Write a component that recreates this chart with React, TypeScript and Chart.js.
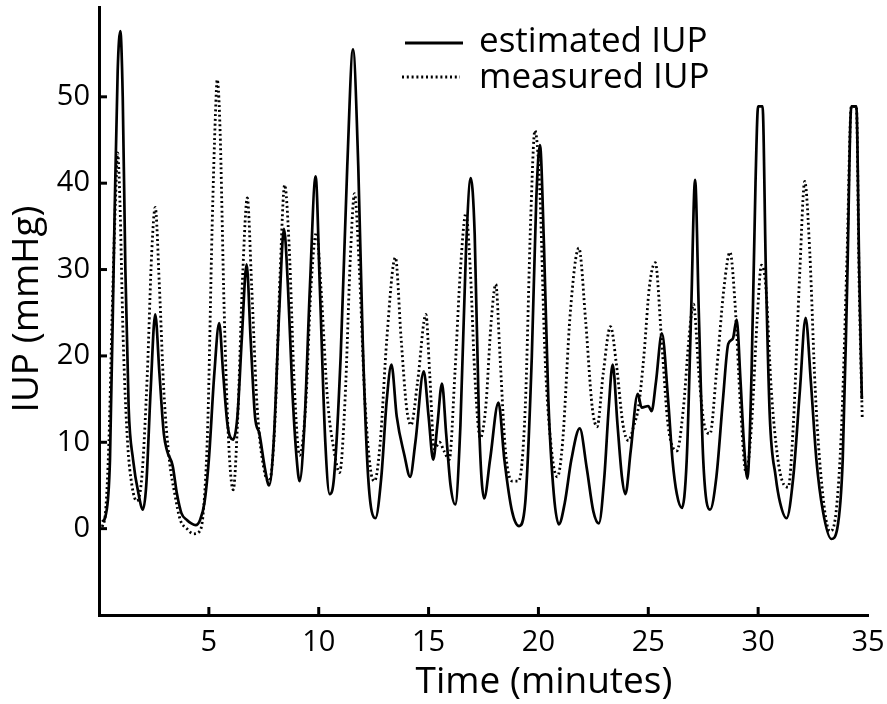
import React, { useEffect, useRef } from "react";
import { Chart, registerables } from "chart.js";
Chart.register(...registerables);

// ---- data ----
const estTime = [
  0.15, 0.3, 0.5, 0.7, 0.85, 0.97, 1.08, 1.2, 1.35, 1.55, 1.8, 2.0, 2.15, 2.35, 2.56, 2.75, 2.95, 3.1, 3.35, 3.55,
  3.75, 4.0, 4.2, 4.4, 4.6, 4.8, 5.0, 5.25, 5.47, 5.65, 5.85, 6.1, 6.3, 6.5, 6.72, 6.9, 7.1, 7.3, 7.55, 7.74,
  7.95, 8.2, 8.42, 8.6, 8.8, 9.0, 9.13, 9.35, 9.6, 9.86, 10.05, 10.3, 10.5, 10.7, 11.0, 11.3, 11.56, 11.8, 12.0, 12.25,
  12.58, 12.85, 13.1, 13.31, 13.55, 13.9, 14.16, 14.4, 14.78, 15.0, 15.21, 15.4, 15.61, 15.8, 16.0, 16.21, 16.45, 16.7, 16.92, 17.1,
  17.3, 17.53, 17.8, 18.18, 18.45, 18.8, 19.12, 19.4, 19.7, 19.9, 20.07, 20.25, 20.45, 20.7, 20.93, 21.2, 21.5, 21.88, 22.2, 22.5,
  22.75, 23.0, 23.2, 23.38, 23.6, 23.8, 23.96, 24.2, 24.52, 24.7, 25.0, 25.15, 25.35, 25.62, 25.9, 26.1, 26.3, 26.53, 26.75, 26.95,
  27.13, 27.3, 27.5, 27.81, 28.1, 28.4, 28.64, 28.85, 29.02, 29.2, 29.35, 29.51, 29.7, 29.88, 30.0, 30.2, 30.35, 30.53, 30.8, 31.0,
  31.29, 31.6, 31.9, 32.16, 32.4, 32.65, 32.95, 33.33, 33.6, 33.85, 34.05, 34.24, 34.47, 34.6, 34.72,
];
const estIUP = [
  0.8, 1.5, 8, 35, 53, 57.6, 50, 30, 14, 8, 4, 2.2, 5, 16, 24.8, 18, 11, 9, 7.3, 4,
  1.8, 1.0, 0.6, 0.4, 1, 3, 8, 18, 23.8, 18, 12, 10.3, 13, 22, 30.6, 22, 13, 11, 7, 5,
  10, 25, 34.7, 28, 16, 8, 5.5, 12, 28, 40.8, 28, 10, 4, 6, 20, 42, 55.5, 42, 22, 6,
  1.2, 6, 15, 19, 13, 8.5, 6, 10, 18.2, 13, 8, 12, 16.8, 11, 5, 2.8, 12, 32, 40.6, 34,
  12, 3.5, 8, 14.6, 8, 2, 0.3, 3, 20, 38, 44.4, 33, 15, 4, 0.5, 3, 8, 11.6, 7, 2,
  0.6, 6, 14, 19, 12, 6, 4, 9, 15.6, 14, 14.2, 13.6, 17, 22.6, 15, 8, 4, 2.4, 8, 25,
  40.4, 25, 8, 2.2, 6, 15, 21.4, 22, 24.2, 17, 10, 5.8, 18, 40, 48.9, 48.9, 30, 13, 6, 3,
  1.2, 6, 16, 24.4, 17, 8, 2, -1.2, 0, 8, 28, 48.9, 48.9, 30, 15,
];
const measTime = [
  0.15, 0.3, 0.45, 0.6, 0.75, 0.85, 0.95, 1.1, 1.3, 1.5, 1.72, 1.95, 2.2, 2.4, 2.56, 2.75, 2.95, 3.2, 3.45, 3.7,
  4.0, 4.3, 4.55, 4.75, 4.95, 5.15, 5.3, 5.38, 5.5, 5.7, 5.9, 6.11, 6.3, 6.55, 6.75, 6.95, 7.2, 7.5, 7.75, 8.0,
  8.25, 8.45, 8.65, 8.9, 9.13, 9.4, 9.65, 9.9, 10.1, 10.4, 10.7, 10.95, 11.2, 11.45, 11.63, 11.85, 12.1, 12.35, 12.54, 12.8,
  13.1, 13.49, 13.75, 14.0, 14.2, 14.5, 14.88, 15.05, 15.26, 15.5, 15.7, 15.94, 16.2, 16.45, 16.7, 16.9, 17.1, 17.35, 17.6, 17.85,
  18.06, 18.25, 18.5, 18.82, 19.1, 19.4, 19.65, 19.84, 20.05, 20.3, 20.6, 20.86, 21.1, 21.45, 21.84, 22.15, 22.45, 22.67, 22.95, 23.28,
  23.55, 23.85, 24.1, 24.35, 24.55, 24.8, 25.05, 25.32, 25.6, 25.9, 26.3, 26.6, 26.85, 27.06, 27.3, 27.55, 27.81, 28.1, 28.45, 28.72,
  28.95, 29.2, 29.45, 29.7, 29.95, 30.15, 30.35, 30.6, 30.9, 31.1, 31.37, 31.6, 31.9, 32.12, 32.35, 32.6, 32.9, 33.26, 33.55, 33.8,
  34.05, 34.24, 34.47, 34.6, 34.74,
];
const measIUP = [
  0.2, 2, 10, 25, 38, 43.5, 38, 22, 10, 5, 3.2, 6, 18, 32, 37.2, 28, 16, 8, 4, 1,
  0, -0.6, -0.4, 2, 12, 35, 48, 52, 47, 25, 10, 4.5, 12, 30, 38.3, 28, 14, 7, 5.5, 12,
  30, 39.8, 33, 16, 8.5, 14, 28, 34.3, 28, 15, 9, 6.5, 15, 32, 38.8, 30, 15, 7, 5.5, 10,
  22, 31.4, 22, 14, 12, 17, 24.8, 18, 9.2, 10, 9, 8, 18, 30, 36.5, 30, 18, 10.5, 14, 24,
  28.3, 20, 9, 5.5, 5.5, 14, 36, 46.1, 40, 20, 9, 6, 10, 25, 32.5, 24, 14, 11.8, 18, 23.4,
  19, 12, 10.2, 12, 14, 20, 28, 30.8, 22, 12, 9, 14, 22, 26, 18, 12, 11, 18, 28, 32,
  26, 14, 6.5, 12, 24, 30.5, 28, 16, 8, 5.5, 4.8, 12, 30, 40.2, 32, 16, 5, -0.3, 2, 12,
  32, 48.9, 48.9, 28, 12.6,
];
const seriesNames = ["estimated IUP", "measured IUP"];
const xTicks = [5, 10, 15, 20, 25, 30, 35];
const xTickMarks = [5, 10, 15, 20, 25, 30];
const yTicks = [0, 10, 20, 30, 40, 50];
const xTitle = "Time (minutes)";
const yTitle = "IUP (mmHg)";

const FONT = "'Open Sans', sans-serif";
const dotted = [2, 2.8];

export default function App() {
  const ref = useRef<HTMLCanvasElement>(null);
  useEffect(() => {
    document.body.style.margin = "0";
    const canvas = ref.current!;

    const decorations = {
      id: "decorations",
      afterDraw(chart: any) {
        const { ctx, chartArea, scales } = chart;
        const xs = scales.x;
        const ys = scales.y;
        ctx.save();
        // inward tick marks
        ctx.strokeStyle = "#000";
        ctx.lineWidth = 3;
        ctx.setLineDash([]);
        yTicks.forEach((v) => {
          const py = ys.getPixelForValue(v);
          ctx.beginPath();
          ctx.moveTo(chartArea.left, py);
          ctx.lineTo(chartArea.left + 8, py);
          ctx.stroke();
        });
        xTickMarks.forEach((v) => {
          const px = xs.getPixelForValue(v);
          ctx.beginPath();
          ctx.moveTo(px, chartArea.bottom);
          ctx.lineTo(px, chartArea.bottom - 8);
          ctx.stroke();
        });
        // axis titles
        ctx.fillStyle = "#000";
        ctx.font = `37px ${FONT}`;
        ctx.textAlign = "center";
        ctx.textBaseline = "middle";
        ctx.fillText(xTitle, 544, 682);
        ctx.save();
        ctx.translate(27, 309);
        ctx.rotate(-Math.PI / 2);
        ctx.fillText(yTitle, 0, 0);
        ctx.restore();
        // legend
        const ds = chart.data.datasets;
        const rows = [
          { y: 43, x0: 405, x1: 463, ty: 52 },
          { y: 77, x0: 402, x1: 460, ty: 88 },
        ];
        rows.forEach((r, i) => {
          ctx.beginPath();
          ctx.lineWidth = i === 0 ? 3 : 3;
          ctx.setLineDash(i === 0 ? [] : (ds[i].borderDash as number[]));
          ctx.moveTo(r.x0, r.y);
          ctx.lineTo(r.x1, r.y);
          ctx.stroke();
          ctx.setLineDash([]);
          ctx.font = `35px ${FONT}`;
          ctx.textAlign = "left";
          ctx.textBaseline = "alphabetic";
          ctx.fillText(ds[i].label, 479, r.ty);
        });
        ctx.restore();
      },
    };

    const chart = new Chart(canvas, {
      type: "line",
      data: {
        datasets: [
          {
            label: seriesNames[0],
            data: estTime.map((t, i) => ({ x: t, y: estIUP[i] })),
            borderColor: "#000",
            borderWidth: 2.7,
            pointRadius: 0,
            cubicInterpolationMode: "monotone",
            fill: false,
          },
          {
            label: seriesNames[1],
            data: measTime.map((t, i) => ({ x: t, y: measIUP[i] })),
            borderColor: "#000",
            borderWidth: 2.8,
            borderDash: dotted,
            pointRadius: 0,
            cubicInterpolationMode: "monotone",
            fill: false,
          },
        ],
      },
      options: {
        responsive: false,
        animation: false,
        events: [],
        layout: { padding: { top: 7, right: 19, left: 0, bottom: 0 } },
        plugins: { legend: { display: false }, tooltip: { enabled: false }, title: { display: false } },
        scales: {
          x: {
            type: "linear",
            min: 0,
            max: 35,
            afterBuildTicks: (s: any) => {
              s.ticks = xTicks.map((v) => ({ value: v }));
            },
            afterFit: (s: any) => {
              s.height = 89;
              s.paddingLeft = 0;
              s.paddingRight = 0;
              s.paddingTop = 0;
              s.paddingBottom = 0;
            },
            grid: { display: false, drawTicks: false },
            border: { display: true, color: "#000", width: 3 },
            ticks: { color: "#000", font: { family: FONT, size: 29 }, padding: 10, maxRotation: 0, autoSkip: false },
          },
          y: {
            type: "linear",
            min: -10,
            max: 60.4,
            afterBuildTicks: (s: any) => {
              s.ticks = yTicks.map((v) => ({ value: v }));
            },
            afterFit: (s: any) => {
              s.width = 99;
              s.paddingLeft = 0;
              s.paddingRight = 0;
              s.paddingTop = 0;
              s.paddingBottom = 0;
            },
            grid: { display: false, drawTicks: false },
            border: { display: true, color: "#000", width: 3 },
            ticks: { color: "#000", font: { family: FONT, size: 29 }, padding: 9, autoSkip: false },
          },
        },
      },
      plugins: [decorations],
    });
    return () => chart.destroy();
  }, []);
  return <canvas ref={ref} width={887} height={704} style={{ display: "block" }} />;
}
